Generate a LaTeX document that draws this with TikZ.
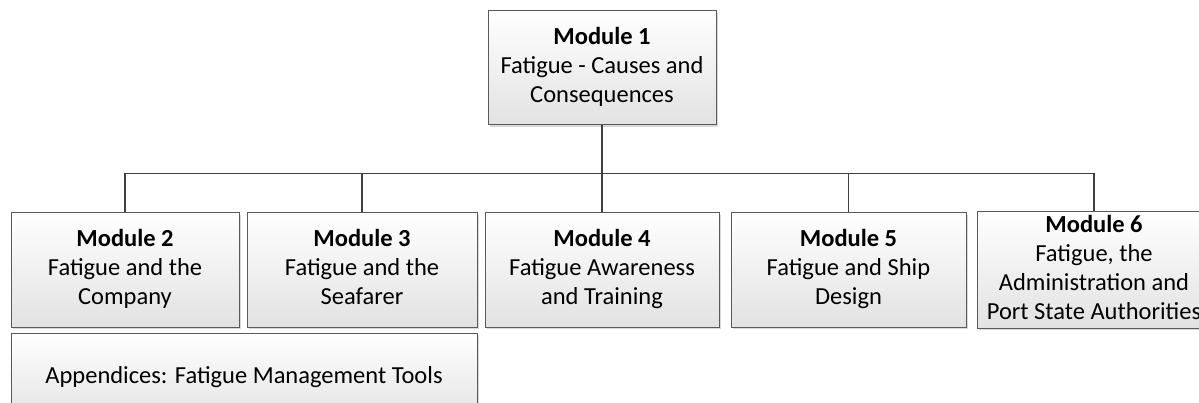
\documentclass[tikz,border=0pt]{standalone}
\usepackage{fontspec}
\setmainfont{Carlito}
\usetikzlibrary{shadows}
\definecolor{boxline}{HTML}{5A5A5A}
\definecolor{conline}{HTML}{404040}
\definecolor{boxbot}{HTML}{E2E2E2}
\tikzset{
  modbox/.style={draw=boxline, line width=1pt, top color=white, bottom color=boxbot,
    drop shadow={shadow xshift=2pt, shadow yshift=-2pt, fill=black!30, opacity=0.5},
    minimum height=114pt, inner xsep=1pt, inner ysep=0pt, align=center,
    font=\fontsize{24.5}{29}\selectfont, text=black},
  conn/.style={draw=conline, line width=1.5pt}
}
\begin{document}
\begin{tikzpicture}[x=1pt, y=-1pt]
\useasboundingbox (0,0) rectangle (1199,403);
\clip (0,0) rectangle (1199,403);
\node[modbox, minimum width=228pt] (m1) at (602,68) {\strut\textbf{Module 1}\\Fatigue - Causes and\\Consequences\strut};
\node[modbox, minimum width=228pt] (m2) at (125,270) {\strut\textbf{Module 2}\\Fatigue and the\\Company\strut};
\node[modbox, minimum width=230pt] (m3) at (362,270) {\strut\textbf{Module 3}\\Fatigue and the\\Seafarer\strut};
\node[modbox, minimum width=234pt] (m4) at (602,270) {\strut\textbf{Module 4}\\Fatigue Awareness\\and Training\strut};
\node[modbox, minimum width=235pt] (m5) at (848.5,270) {\strut\textbf{Module 5}\\Fatigue and Ship\\Design\strut};
\node[modbox, minimum width=234pt] (m6) at (1094,270) {\strut\textbf{Module 6}\\Fatigue, the\\Administration and\\Port State Authorities\strut};
\node[modbox, minimum width=466pt, minimum height=90pt] (app) at (244,378) {\strut Appendices: Fatigue Management Tools\strut};
\draw[conn] (m1.south) -- ++(0,48) coordinate (j);
\draw[conn] (m2.north) |- (j);
\draw[conn] (m3.north) |- (j);
\draw[conn] (m4.north) -- (j);
\draw[conn] (m5.north) |- (j);
\draw[conn] (m6.north) |- (j);
\end{tikzpicture}
\end{document}
